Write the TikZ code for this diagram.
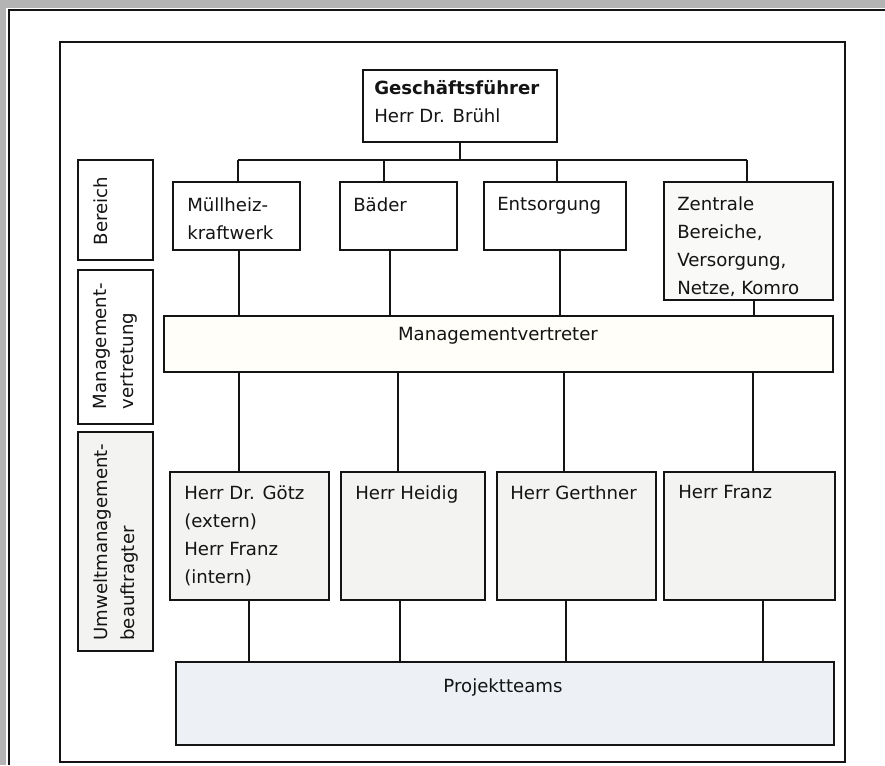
\documentclass[tikz,border=0pt]{standalone}
\usepackage{fontspec}
\setmainfont{DejaVu Sans}
\usetikzlibrary{fit}
\definecolor{ink}{HTML}{141414}
\definecolor{scan}{HTML}{B4B4B4}
\definecolor{umbfill}{HTML}{F3F3F1}
\definecolor{projfill}{HTML}{EDF1F5}
\definecolor{mgmtfill}{HTML}{FFFEF8}
\begin{document}
\begin{tikzpicture}[x=0.75pt,y=-0.75pt,
  box/.style={draw=ink, line width=1.1pt, inner sep=0pt, fit={#1}},
  txt/.style={anchor=north west, inner sep=0pt, align=left, text=ink,
    font=\fontsize{13.6}{21}\selectfont},
  side/.style={rotate=90, anchor=north, inner sep=0pt, align=left, text=ink,
    font=\fontsize{13.6}{20.5}\selectfont},
  conn/.style={draw=ink, line width=0.9pt}]
\useasboundingbox (0,0) rectangle (885,765);
% scanned background
\fill[scan] (0,0) rectangle (885,765);
\fill[white] (6,8) rectangle (885,765);
\draw[ink, line width=1.6pt] (9,765) -- (9,10) -- (885,10);
% inner frame
\draw[ink, line width=1.2pt] (60,42) rectangle (845,762);

% left labels
\node[box={(78,160)(153,260)}] (lb) {};
\node[box={(78,270)(153,424)}] (lm) {};
\node[box={(78,432)(153,651)}, fill=umbfill] (lu) {};
\node[side] (lbt) at (93,211) {Bereich};
\node[side] (lmt) at (93,346) {Management-\\vertretung};
\node[side] (lut) at (93,542) {Umweltmanagement-\\beauftragter};

% top
\node[box={(363,70)(557,142)}] (gf) {};
\node[txt] (gft) at (374,80) {\textbf{Geschäftsführer}\\Herr Dr. Brühl};

% Bereich boxes
\node[box={(173,182)(300,250)}] (b1) {};
\node[box={(340,182)(457,250)}] (b2) {};
\node[box={(484,182)(626,250)}] (b3) {};
\node[box={(664,182)(833,300)}, fill=umbfill!50] (b4) {};
\node[txt] (b1t) at (187,197) {Müllheiz-\\kraftwerk};
\node[txt] (b2t) at (353,197) {Bäder};
\node[txt] (b3t) at (497,197) {Entsorgung};
\node[txt] (b4t) at (677,196) {Zentrale\\Bereiche,\\Versorgung,\\Netze, Komro};

% Managementvertreter
\node[box={(164,316)(833,372)}, fill=mgmtfill] (mv) {};
\node[anchor=center, inner sep=0pt, text=ink, font=\fontsize{13.6}{21}\selectfont] (mvt) at (498,336) {Managementvertreter};

% UMB boxes
\node[box={(170,472)(329,600)}, fill=umbfill] (u1) {};
\node[box={(341,472)(485,600)}, fill=umbfill] (u2) {};
\node[box={(497,472)(656,600)}, fill=umbfill] (u3) {};
\node[box={(664,472)(835,600)}, fill=umbfill] (u4) {};
\node[txt] (u1t) at (184,485) {Herr Dr. Götz\\(extern)\\Herr Franz\\(intern)};
\node[txt] (u2t) at (355,485) {Herr Heidig};
\node[txt] (u3t) at (510,485) {Herr Gerthner};
\node[txt] (u4t) at (678,485) {Herr Franz};

% Projektteams
\node[box={(176,662)(834,745)}, fill=projfill] (pt) {};
\node[anchor=center, inner sep=0pt, text=ink, font=\fontsize{13.6}{21}\selectfont] (ptt) at (503,687) {Projektteams};

% connectors
\coordinate (busL) at (238,160);
\coordinate (busR) at (747,160);
\draw[conn] (gf.south) -- (gf.south |- busL);
\draw[conn] (busL) -- (busR);
\coordinate (c1) at (238,160);
\coordinate (c2) at (384,160);
\coordinate (c3) at (557,160);
\coordinate (c4) at (747,160);
\draw[conn] (c1) -- (c1 |- b1.north);
\draw[conn] (c2) -- (c2 |- b2.north);
\draw[conn] (c3) -- (c3 |- b3.north);
\draw[conn] (c4) -- (c4 |- b4.north);
% Bereich -> Managementvertreter
\coordinate (d1) at (239,250);
\coordinate (d2) at (390,250);
\coordinate (d3) at (560,250);
\coordinate (d4) at (754,300);
\draw[conn] (d1) -- (d1 |- mv.north);
\draw[conn] (d2) -- (d2 |- mv.north);
\draw[conn] (d3) -- (d3 |- mv.north);
\draw[conn] (d4) -- (d4 |- mv.north);
% Managementvertreter -> UMB
\coordinate (e1) at (239,372);
\coordinate (e2) at (398,372);
\coordinate (e3) at (564,372);
\coordinate (e4) at (753,372);
\draw[conn] (e1) -- (e1 |- u1.north);
\draw[conn] (e2) -- (e2 |- u2.north);
\draw[conn] (e3) -- (e3 |- u3.north);
\draw[conn] (e4) -- (e4 |- u4.north);
% UMB -> Projektteams
\coordinate (f1) at (249,600);
\coordinate (f2) at (400,600);
\coordinate (f3) at (566,600);
\coordinate (f4) at (763,600);
\draw[conn] (f1) -- (f1 |- pt.north);
\draw[conn] (f2) -- (f2 |- pt.north);
\draw[conn] (f3) -- (f3 |- pt.north);
\draw[conn] (f4) -- (f4 |- pt.north);
\end{tikzpicture}
\end{document}
